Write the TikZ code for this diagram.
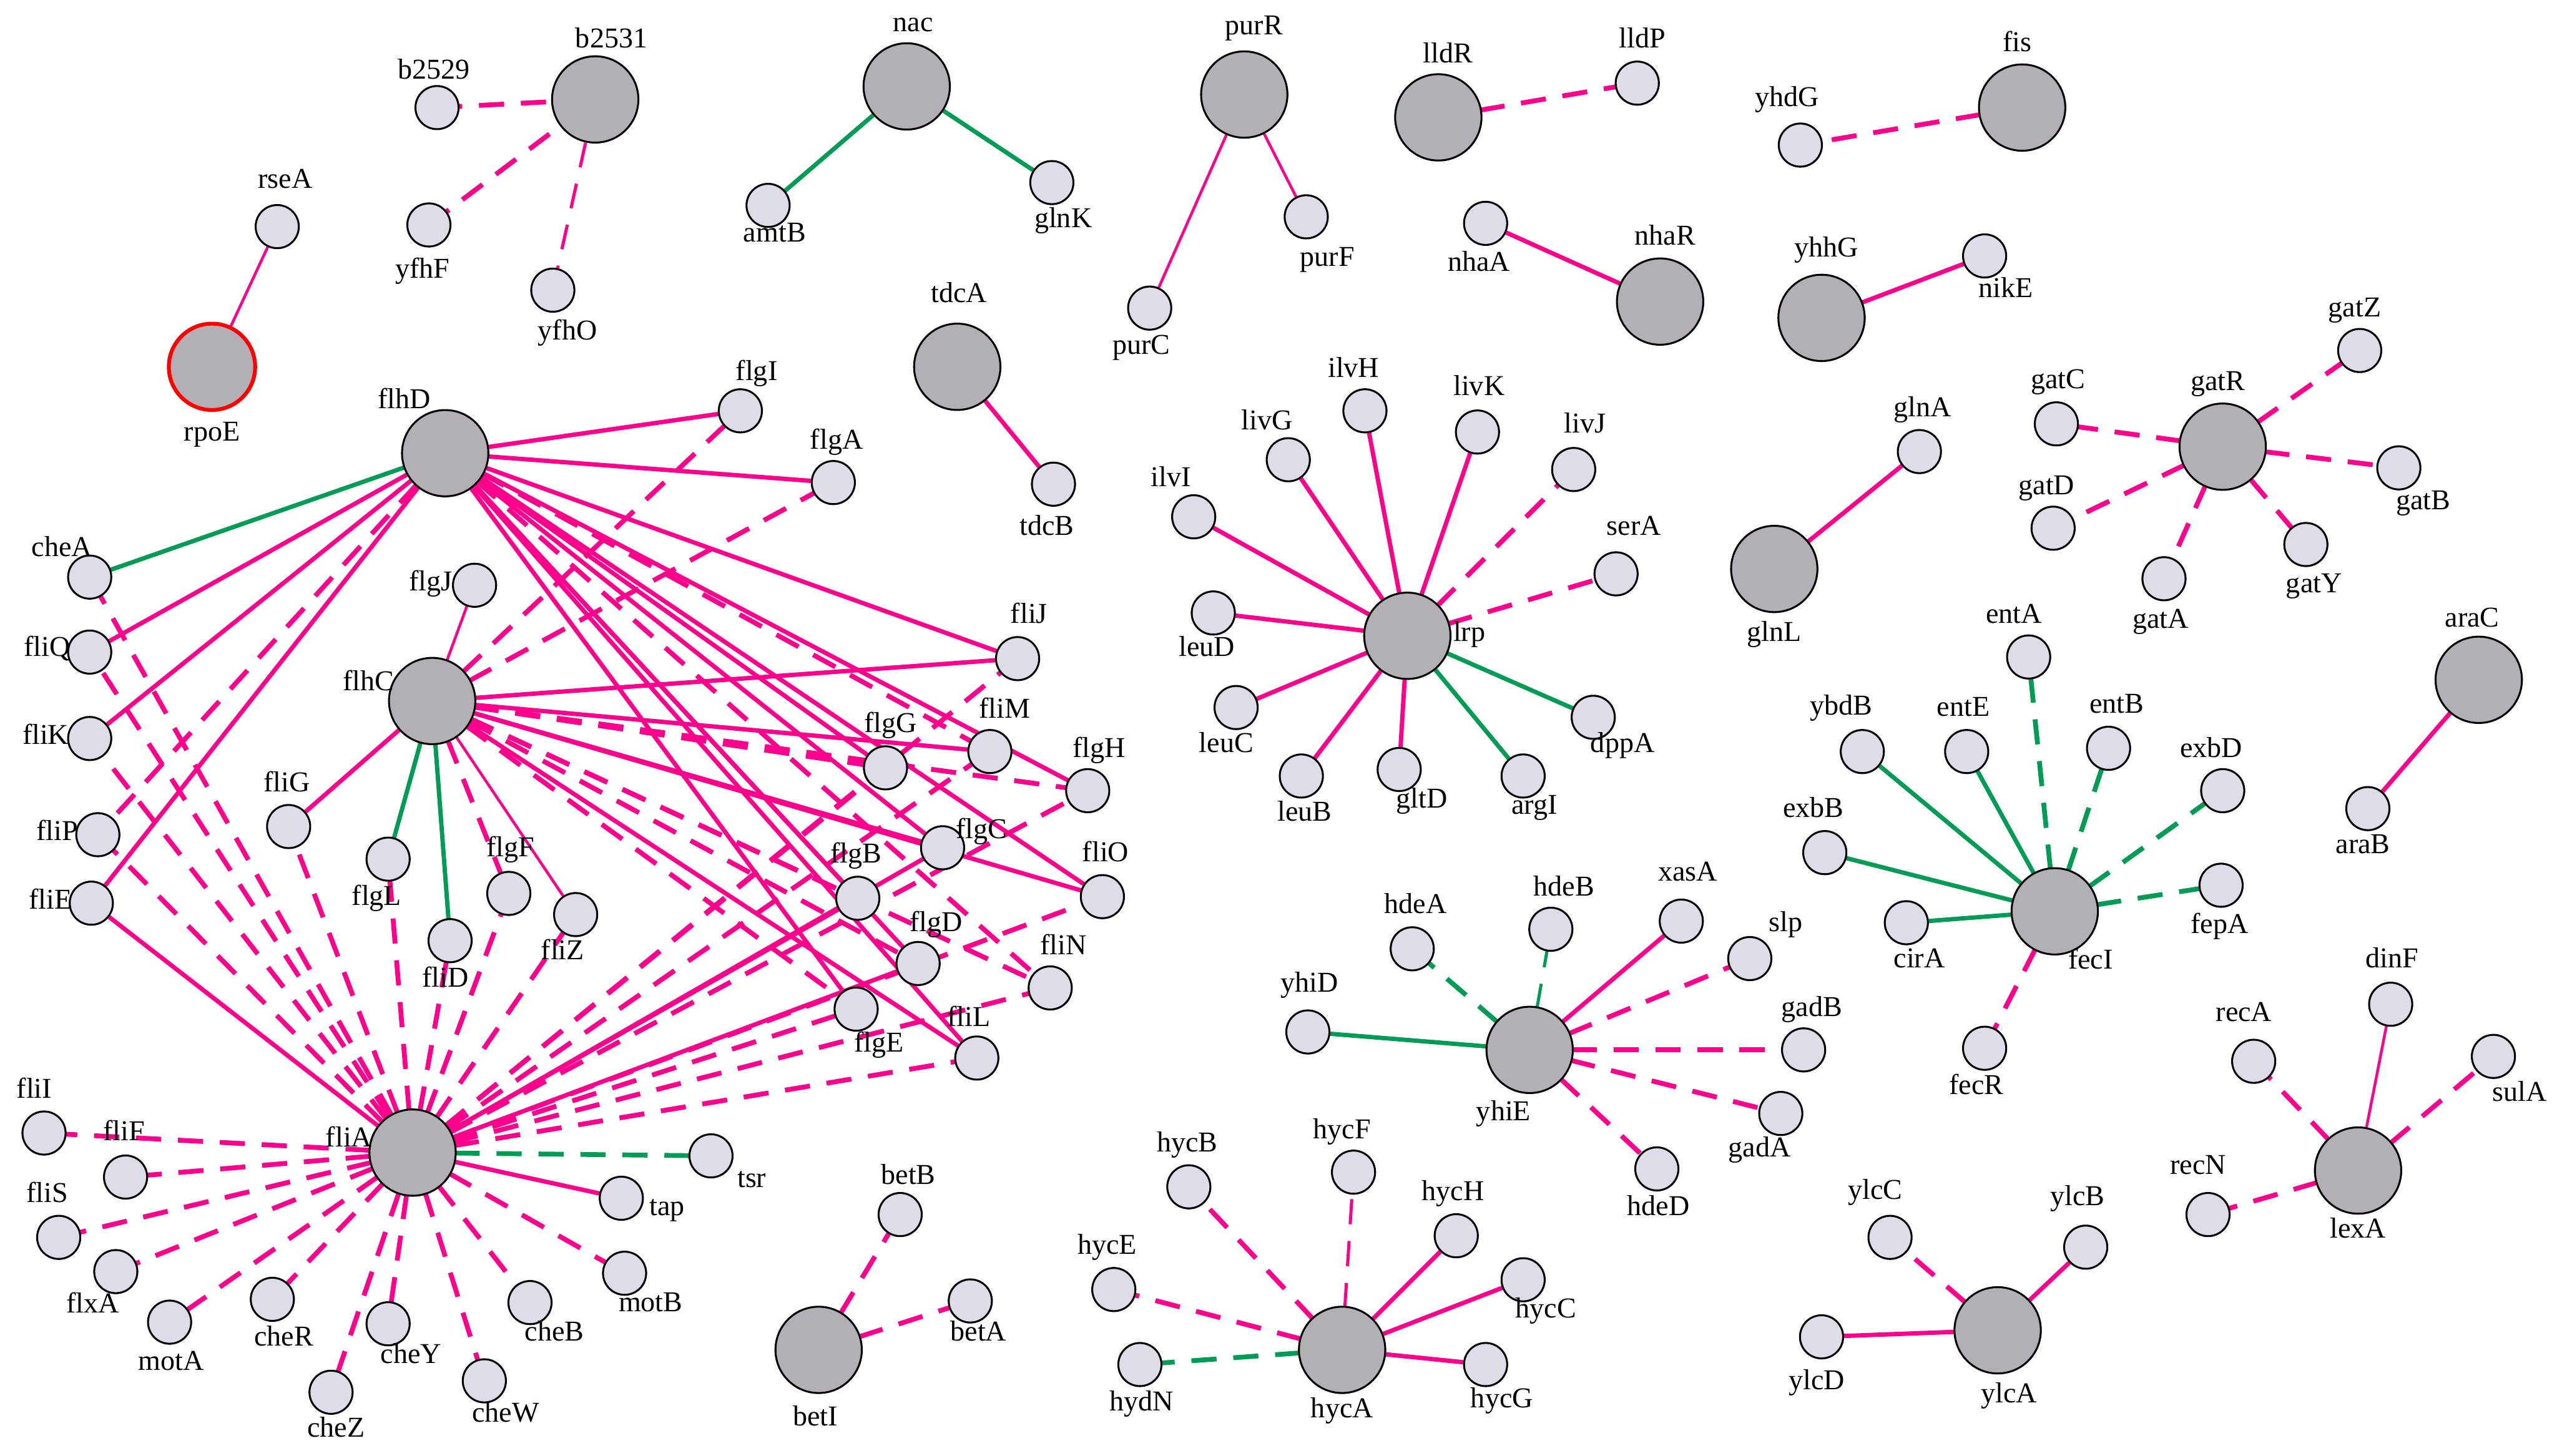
\documentclass[tikz,border=0pt]{standalone}
\usepackage{fontspec}
\setmainfont{Liberation Serif}
\usetikzlibrary{backgrounds}
\definecolor{pk}{RGB}{255,0,140}
\definecolor{gn}{RGB}{0,156,86}
\definecolor{hubfill}{RGB}{178,176,181}
\definecolor{genefill}{RGB}{222,220,230}
\tikzset{
  hubnode/.style={circle,draw=black,line width=0.8pt,fill=hubfill,minimum size=36pt,inner sep=0pt},
  genenode/.style={circle,draw=black,line width=0.8pt,fill=genefill,minimum size=18pt,inner sep=0pt},
  lbl/.style={font=\fontsize{12}{14}\selectfont,inner sep=0pt,text height=8.5pt,text depth=2.5pt,anchor=center},
  ePS/.style={draw=pk,line width=1.8pt},
  ePT/.style={draw=pk,line width=1.15pt},
  ePD/.style={draw=pk,line width=2pt,dash pattern=on 10.5pt off 7pt},
  ePDT/.style={draw=pk,line width=1.3pt,dash pattern=on 10.5pt off 7pt},
  eGS/.style={draw=gn,line width=1.8pt},
  eGT/.style={draw=gn,line width=1.2pt},
  eGD/.style={draw=gn,line width=2pt,dash pattern=on 10.5pt off 7pt},
  eGDT/.style={draw=gn,line width=1.3pt,dash pattern=on 10.5pt off 7pt}
}
\newcommand\hubgene[6][]{\node[hubnode,#1] (#2) at (#3,#4) {}; \node[lbl] (#2-l) at (#5,#6) {#2};}
\newcommand\leafgene[5]{\node[genenode] (#1) at (#2,#3) {}; \node[lbl] (#1-l) at (#4,#5) {#1};}
\begin{document}
\begin{tikzpicture}[x=0.68pt,y=-0.68pt]
\useasboundingbox (0,0) rectangle (1568,893);
% hubs
\hubgene{b2531}{365}{61}{375}{25}
\hubgene{nac}{556}{53}{560}{15}
\hubgene{purR}{763}{58}{769}{17}
\hubgene{lldR}{882}{72}{888}{34}
\hubgene{fis}{1240}{66}{1237}{27}
\hubgene{nhaR}{1018}{185}{1021}{146}
\hubgene{yhhG}{1117}{195}{1120}{153}
\hubgene[draw=red,line width=1.6pt]{rpoE}{130}{225}{130}{266}
\hubgene{tdcA}{587}{225}{588}{181}
\hubgene{flhD}{273}{278}{248}{246}
\hubgene{glnL}{1088}{349}{1088}{389}
\hubgene{gatR}{1363}{274}{1360}{235}
\hubgene{lrp}{863}{390}{901}{389}
\hubgene{flhC}{265}{430}{226}{419}
\hubgene{araC}{1520}{417}{1516}{380}
\hubgene{fecI}{1260}{559}{1282}{590}
\hubgene{yhiE}{938}{644}{922}{683}
\hubgene{lexA}{1446}{718}{1446}{755}
\hubgene{fliA}{253}{707}{214}{699}
\hubgene{betI}{502}{828}{500}{870}
\hubgene{hycA}{823}{828}{823}{865}
\hubgene{ylcA}{1225}{816}{1232}{856}
% leaves
\leafgene{b2529}{268}{66}{266}{44}
\leafgene{yfhF}{263}{138}{259}{166}
\leafgene{yfhO}{339}{178}{348}{204}
\leafgene{rseA}{170}{139}{175}{111}
\leafgene{amtB}{471}{126}{475}{144}
\leafgene{glnK}{645}{112}{652}{135}
\leafgene{purF}{801}{133}{814}{159}
\leafgene{purC}{705}{189}{700}{213}
\leafgene{lldP}{1004}{51}{1007}{25}
\leafgene{yhdG}{1104}{89}{1096}{61}
\leafgene{nhaA}{911}{137}{907}{162}
\leafgene{nikE}{1217}{157}{1230}{178}
\leafgene{tdcB}{646}{297}{642}{324}
\leafgene{flgI}{454}{252}{464}{229}
\leafgene{flgA}{511}{296}{513}{271}
\leafgene{cheA}{55}{354}{38}{337}
\leafgene{fliQ}{55}{400}{29}{398}
\leafgene{fliK}{55}{453}{28}{452}
\leafgene{fliP}{60}{512}{35}{511}
\leafgene{fliE}{56}{554}{31}{553}
\leafgene{flgJ}{291}{359}{264}{358}
\leafgene{fliJ}{624}{404}{631}{378}
\leafgene{fliM}{607}{461}{616}{436}
\leafgene{flgG}{543}{471}{546}{445}
\leafgene{flgH}{667}{485}{674}{460}
\leafgene{fliG}{177}{507}{176}{481}
\leafgene{flgC}{578}{520}{602}{510}
\leafgene{fliO}{676}{550}{678}{524}
\leafgene{flgB}{526}{551}{525}{525}
\leafgene{flgL}{238}{527}{231}{551}
\leafgene{flgF}{312}{548}{313}{521}
\leafgene{fliZ}{353}{561}{345}{584}
\leafgene{fliD}{276}{577}{273}{601}
\leafgene{flgD}{563}{591}{574}{567}
\leafgene{fliN}{644}{606}{652}{581}
\leafgene{flgE}{525}{619}{539}{641}
\leafgene{fliL}{599}{649}{594}{625}
\leafgene{fliI}{27}{695}{21}{669}
\leafgene{fliF}{77}{722}{76}{695}
\leafgene{fliS}{36}{759}{29}{733}
\leafgene{flxA}{71}{780}{57}{801}
\leafgene{motA}{104}{811}{105}{836}
\leafgene{cheR}{167}{797}{174}{821}
\leafgene{cheZ}{203}{854}{206}{877}
\leafgene{cheY}{238}{812}{252}{832}
\leafgene{cheW}{297}{847}{310}{868}
\leafgene{cheB}{325}{799}{340}{818}
\leafgene{motB}{383}{781}{399}{800}
\leafgene{tap}{381}{735}{409}{741}
\leafgene{tsr}{436}{709}{461}{724}
\leafgene{betB}{552}{745}{557}{722}
\leafgene{betA}{595}{798}{600}{818}
\leafgene{ilvH}{837}{252}{830}{227}
\leafgene{livK}{906}{265}{907}{238}
\leafgene{livG}{790}{282}{777}{259}
\leafgene{livJ}{965}{288}{972}{261}
\leafgene{ilvI}{732}{317}{718}{294}
\leafgene{serA}{991}{352}{1002}{324}
\leafgene{leuD}{744}{376}{740}{398}
\leafgene{leuC}{758}{434}{752}{457}
\leafgene{dppA}{977}{440}{995}{457}
\leafgene{leuB}{798}{476}{800}{499}
\leafgene{gltD}{858}{472}{872}{491}
\leafgene{argI}{934}{476}{941}{495}
\leafgene{glnA}{1177}{277}{1179}{251}
\leafgene{gatZ}{1447}{215}{1444}{190}
\leafgene{gatC}{1261}{260}{1262}{234}
\leafgene{gatD}{1259}{324}{1255}{299}
\leafgene{gatB}{1471}{287}{1486}{308}
\leafgene{gatY}{1414}{334}{1419}{359}
\leafgene{gatA}{1327}{355}{1325}{381}
\leafgene{entA}{1244}{403}{1235}{378}
\leafgene{ybdB}{1142}{461}{1129}{434}
\leafgene{entE}{1206}{461}{1204}{435}
\leafgene{entB}{1293}{459}{1298}{433}
\leafgene{exbD}{1363}{485}{1356}{460}
\leafgene{exbB}{1119}{523}{1112}{497}
\leafgene{fepA}{1362}{543}{1361}{568}
\leafgene{cirA}{1169}{566}{1177}{589}
\leafgene{fecR}{1217}{643}{1212}{667}
\leafgene{araB}{1452}{496}{1449}{519}
\leafgene{hdeA}{866}{582}{868}{556}
\leafgene{hdeB}{951}{570}{959}{545}
\leafgene{xasA}{1031}{565}{1035}{536}
\leafgene{slp}{1073}{588}{1095}{567}
\leafgene{yhiD}{802}{633}{803}{604}
\leafgene{gadB}{1106}{644}{1111}{619}
\leafgene{gadA}{1092}{683}{1079}{705}
\leafgene{hdeD}{1016}{717}{1017}{741}
\leafgene{dinF}{1466}{616}{1467}{589}
\leafgene{recA}{1382}{651}{1376}{622}
\leafgene{sulA}{1529}{648}{1545}{671}
\leafgene{recN}{1354}{745}{1348}{716}
\leafgene{ylcC}{1159}{759}{1150}{731}
\leafgene{ylcB}{1279}{765}{1274}{735}
\leafgene{ylcD}{1117}{820}{1114}{848}
\leafgene{hycB}{729}{728}{728}{702}
\leafgene{hycF}{830}{719}{823}{694}
\leafgene{hycH}{893}{758}{891}{732}
\leafgene{hycE}{683}{791}{679}{765}
\leafgene{hycC}{934}{785}{948}{804}
\leafgene{hydN}{699}{837}{700}{861}
\leafgene{hycG}{911}{837}{921}{859}
% edges
\begin{scope}[on background layer]
\draw[ePT] (rseA.center) -- (rpoE.center);
\draw[ePD] (b2529.center) -- (b2531.center);
\draw[ePD] (yfhF.center) -- (b2531.center);
\draw[ePDT] (yfhO.center) -- (b2531.center);
\draw[eGS] (nac.center) -- (amtB.center);
\draw[eGS] (nac.center) -- (glnK.center);
\draw[ePT] (purR.center) -- (purC.center);
\draw[ePT] (purR.center) -- (purF.center);
\draw[ePD] (lldR.center) -- (lldP.center);
\draw[ePD] (fis.center) -- (yhdG.center);
\draw[ePS] (nhaR.center) -- (nhaA.center);
\draw[ePS] (yhhG.center) -- (nikE.center);
\draw[ePS] (tdcA.center) -- (tdcB.center);
\draw[ePS] (glnL.center) -- (glnA.center);
\draw[ePS] (araC.center) -- (araB.center);
% gatR
\foreach \t in {gatZ,gatC,gatD,gatB,gatY,gatA} \draw[ePD] (gatR.center) -- (\t.center);
% lrp
\foreach \t in {ilvH,livK,livG,ilvI,leuD,leuC,leuB,gltD} \draw[ePS] (lrp.center) -- (\t.center);
\draw[ePD] (lrp.center) -- (livJ.center);
\draw[ePD] (lrp.center) -- (serA.center);
\draw[eGS] (lrp.center) -- (dppA.center);
\draw[eGS] (lrp.center) -- (argI.center);
% fecI
\foreach \t in {ybdB,entE,exbB,cirA} \draw[eGS] (fecI.center) -- (\t.center);
\foreach \t in {entA,entB,exbD,fepA} \draw[eGD] (fecI.center) -- (\t.center);
\draw[ePD] (fecI.center) -- (fecR.center);
% yhiE
\draw[eGD] (yhiE.center) -- (hdeA.center);
\draw[eGDT] (yhiE.center) -- (hdeB.center);
\draw[ePS] (yhiE.center) -- (xasA.center);
\draw[eGS] (yhiE.center) -- (yhiD.center);
\foreach \t in {slp,gadB,gadA,hdeD} \draw[ePD] (yhiE.center) -- (\t.center);
% lexA
\draw[ePT] (lexA.center) -- (dinF.center);
\foreach \t in {recA,sulA,recN} \draw[ePD] (lexA.center) -- (\t.center);
% ylcA
\draw[ePD] (ylcA.center) -- (ylcC.center);
\draw[ePS] (ylcA.center) -- (ylcB.center);
\draw[ePS] (ylcA.center) -- (ylcD.center);
% hycA
\draw[ePD] (hycA.center) -- (hycB.center);
\draw[ePDT] (hycA.center) -- (hycF.center);
\draw[ePD] (hycA.center) -- (hycE.center);
\draw[ePS] (hycA.center) -- (hycH.center);
\draw[ePS] (hycA.center) -- (hycC.center);
\draw[ePS] (hycA.center) -- (hycG.center);
\draw[eGD] (hycA.center) -- (hydN.center);
% betI
\draw[ePD] (betI.center) -- (betB.center);
\draw[ePD] (betI.center) -- (betA.center);
% flhD
\draw[eGS] (flhD.center) -- (cheA.center);
\foreach \t in {fliQ,fliK,fliE,flgI,flgA,fliJ,flgH,fliO,flgC,flgG,flgB,flgD,flgE,fliL} \draw[ePS] (flhD.center) -- (\t.center);
\foreach \t in {fliP,fliM,fliN} \draw[ePD] (flhD.center) -- (\t.center);
% flhC
\draw[ePT] (flhC.center) -- (flgJ.center);
\draw[ePT] (flhC.center) -- (fliZ.center);
\draw[eGS] (flhC.center) -- (flgL.center);
\draw[eGS] (flhC.center) -- (fliD.center);
\foreach \t in {fliG,fliJ,fliM,flgC,fliO,fliL} \draw[ePS] (flhC.center) -- (\t.center);
\foreach \t in {flgF,flgG,flgH,flgB,flgD,fliN,flgE,flgI,flgA} \draw[ePD] (flhC.center) -- (\t.center);
% fliA
\foreach \t in {cheA,fliQ,fliK,fliP,fliG,flgL,fliD,flgF,fliZ,fliI,fliF,fliS,flxA,motA,cheR,cheZ,cheY,cheW,cheB,motB,flgE,fliL,fliN,fliO,flgH,flgG,fliM,fliJ} \draw[ePD] (fliA.center) -- (\t.center);
\foreach \t in {fliE,tap,flgB,flgC,flgD} \draw[ePS] (fliA.center) -- (\t.center);
\draw[eGD] (fliA.center) -- (tsr.center);
\end{scope}
\end{tikzpicture}
\end{document}
